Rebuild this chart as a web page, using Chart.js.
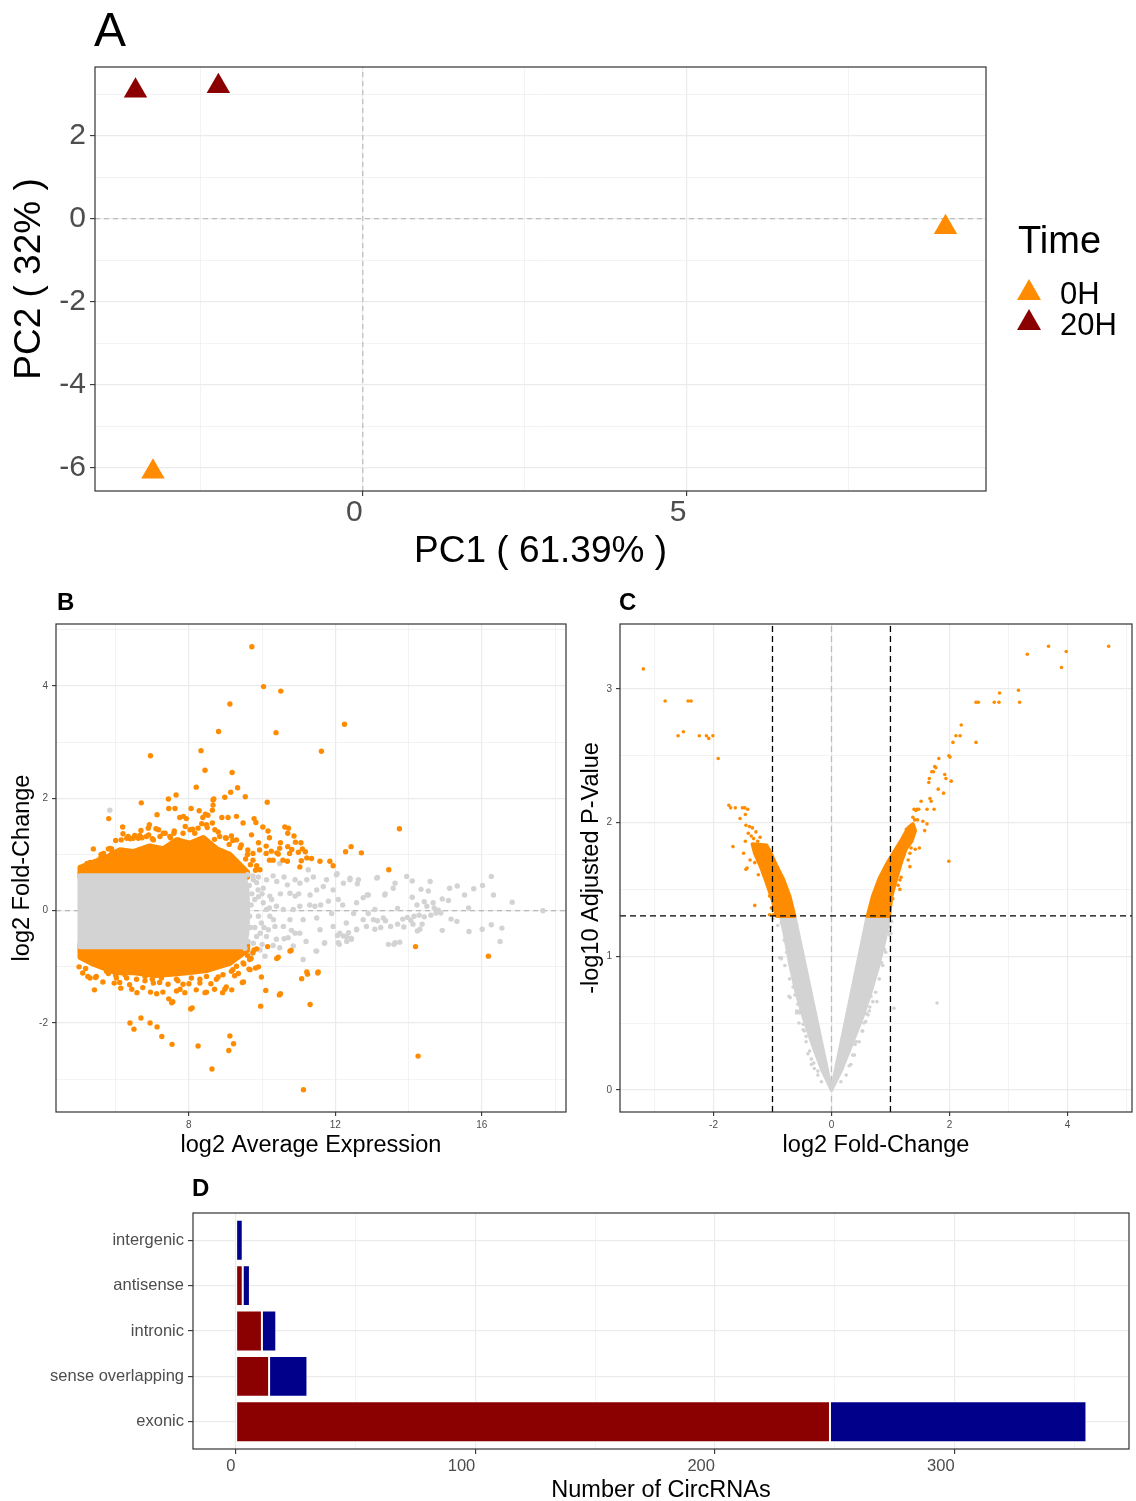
<!DOCTYPE html>
<html>
<head>
<meta charset="utf-8">
<script src="https://cdn.jsdelivr.net/npm/chart.js"></script>
<style>
  body { margin: 0; background: #fff; }
  #page { position: relative; width: 1136px; height: 1501px; font-family: "Liberation Sans", Arial, sans-serif; color: #000; }
  canvas { position: absolute; }
  .tag { position: absolute; line-height: 1; white-space: nowrap; }
  .panel { font-weight: bold; font-size: 24px; }
  .tri { position: absolute; width: 0; height: 0; border-left: 12px solid transparent; border-right: 12px solid transparent; }
</style>
</head>
<body>
<div id="page">
  <canvas id="pca" width="1136" height="580" style="left:0;top:0"></canvas>
  <canvas id="ma" width="570" height="590" style="left:0;top:580px"></canvas>
  <canvas id="volcano" width="566" height="590" style="left:570px;top:580px"></canvas>
  <canvas id="types" width="1136" height="331" style="left:0;top:1170px"></canvas>

  <div class="tag" style="left:94px;top:6px;font-size:48px">A</div>
  <div class="tag panel" style="left:57px;top:590px">B</div>
  <div class="tag panel" style="left:619px;top:590px">C</div>
  <div class="tag panel" style="left:192px;top:1176px">D</div>

  <div class="tag" style="left:1018px;top:221px;font-size:38px">Time</div>
  <div class="tri" style="left:1017px;top:279px;border-bottom:21px solid #FF8C00"></div>
  <div class="tag" style="left:1060px;top:278px;font-size:31px">0H</div>
  <div class="tri" style="left:1017px;top:309px;border-bottom:21px solid #8B0000"></div>
  <div class="tag" style="left:1060px;top:309px;font-size:31px">20H</div>
</div>
<script>
// ---- A: PCA ----
const pcaTime0H = [[-3.24, -6.10], [9.00, -0.21]]
const pcaTime20H = [[-3.51, 3.08], [-2.23, 3.19]]
const pcaTicksX = [0, 5]
const pcaTicksY = [-6, -4, -2, 0, 2]

// ---- B: MA plot ----
// dense cores of the cloud, outlined from the picture
const maNsCore = [[5.03, 0.62], [9.5, 0.62], [9.58, 0.4], [9.6, 0], [9.58, -0.4], [9.5, -0.64], [5.03, -0.64]]
const maSigCoreUp = [[5.03, 0.6], [9.6, 0.6], [9.6, 0.68], [9.48, 0.76], [9.12, 1.0], [8.76, 1.1], [8.39, 1.3], [8.03, 1.2], [7.66, 1.26], [7.3, 1.1], [6.93, 1.15], [6.48, 1.05], [6.11, 1.08], [5.75, 0.95], [5.39, 0.86], [5.03, 0.77]]
const maSigCoreDown = [[5.03, -0.6], [9.6, -0.6], [9.6, -0.7], [9.4, -0.8], [9.1, -0.94], [8.5, -1.06], [7.7, -1.12], [7.1, -1.15], [6.5, -1.1], [6.0, -1.1], [5.39, -0.95], [5.03, -0.83]]
const maSigPoints = [
  [9.72, 4.70], [10.04, 3.99], [10.51, 3.91], [9.12, 3.68], [12.25, 3.32], [8.81, 3.19], [10.38, 3.17], [6.95, 2.76], [8.33, 2.85], [11.62, 2.84],
  [8.44, 2.50], [9.18, 2.46], [8.2, 2.20], [9.33, 2.19], [9.14, 2.11], [7.65, 2.06], [7.44, 1.99], [9.54, 2.03], [8.68, 1.99], [8.98, 2.02],
  [10.14, 1.93], [6.70, 1.92], [13.75, 1.46], [12.43, 1.14], [12.28, 1.05], [12.71, 1.03], [13.46, 0.73], [5.81, 1.64], [7.13, 1.71],
  [8.06, 1.82], [7.45, 1.82], [7.62, 1.82], [8.28, 1.78], [8.64, 1.79], [8.66, 1.97], [8.66, 1.88], [8.38, 1.66], [7.75, 1.66], [7.85, 1.68],
  [7.93, 1.64], [8.45, 1.72], [8.52, 1.70], [8.9, 1.66], [9.07, 1.66], [9.78, 1.64], [9.83, 1.57], [10.02, 1.49], [10.16, 1.42], [10.2, 1.30],
  [10.62, 1.49], [10.72, 1.47], [10.87, 1.33], [11.06, 1.21], [11.18, 1.05], [10.5, 1.21], [10.7, 1.14], [10.81, 1.09], [10.99, 1.04], [11.07, 0.89],
  [9.9, 1.21], [10.11, 1.15], [10.25, 1.06], [10.4, 1.03], [6.19, 1.49], [5.39, 1.10], [6.69, 1.43], [6.89, 1.47], [6.92, 1.53], [7.1, 1.46],
  [7.17, 1.44], [6.2, 1.37], [6.34, 1.32], [6.52, 1.34], [6.66, 1.34], [6.72, 1.30], [5.8, 1.1], [5.85, 1.11], [5.67, 1.02], [5.58, 0.93],
  [5.3, 0.86], [5.22, 0.84], [11.94, 0.80], [11.85, 0.88], [11.58, 0.88], [11.35, 0.93], [11.22, 0.94], [11.03, 0.78], [11.1, 1.1], [10.91, 1.22],
  [10.7, 1.38], [10.48, 1.11], [10.69, 0.88], [10.44, 1.01], [10.3, 0.90], [9.94, 0.73],
  [6.0, 1.25], [6.4, 1.28], [6.9, 1.35], [7.3, 1.38], [7.6, 1.42], [7.9, 1.5], [8.1, 1.45], [8.35, 1.55], [8.5, 1.48], [8.8, 1.4],
  [9.0, 1.3], [9.2, 1.25], [9.4, 1.12], [9.6, 1.0], [9.75, 0.9], [9.85, 0.8], [7.5, 1.3], [7.0, 1.28], [8.7, 1.27], [9.1, 1.18], [5.6, 1.0], [5.9, 1.05],
  [5.66, 1.0], [5.89, 1.10], [6.15, 1.26], [6.30, 1.29], [6.48, 1.29], [6.62, 1.29], [6.84, 1.32], [7.03, 1.26], [7.21, 1.32], [7.35, 1.38],
  [7.48, 1.32], [7.59, 1.38], [7.71, 1.26], [7.84, 1.38], [8.03, 1.44], [8.16, 1.38], [8.25, 1.47], [8.48, 1.53], [8.64, 1.56], [8.71, 1.44],
  [8.84, 1.32], [9.02, 1.29], [9.16, 1.33], [9.3, 1.26], [9.43, 1.17], [9.61, 1.08], [9.75, 1.02], [9.93, 1.08], [10.11, 1.02], [10.2, 0.9],
  [10.57, 0.9], [10.75, 1.02], [9.3, 1.68], [9.48, 1.56], [9.71, 1.35], [9.68, 0.82], [9.55, 0.92], [9.82, 0.72],
  [6.39, -2.0], [6.50, -2.11], [6.69, -1.91], [6.94, -2.0], [7.13, -2.07], [7.26, -2.24], [7.54, -2.38], [8.25, -2.41], [9.12, -2.23], [9.22, -2.37],
  [9.09, -2.49], [8.63, -2.82], [11.13, -3.19], [14.26, -2.59], [14.19, -0.64], [16.18, -0.81], [8.09, -1.73], [7.56, -1.62], [9.96, -1.70], [11.31, -1.67],
  [11.53, -1.09], [11.22, -1.09], [11.24, -1.13], [11.52, -1.11], [11.08, -1.21], [10.5, -1.48], [10.47, -1.50], [10.1, -1.42], [9.98, -1.18], [9.9, -1.0],
  [5.42, -1.41], [5.24, -1.17], [10.79, -0.71], [10.4, -0.85], [10.44, -0.83], [10.15, -0.64], [9.78, -0.7], [9.67, -1.05], [9.49, -1.27],
  [9.25, -1.16], [8.98, -1.40], [9.02, -1.36], [8.48, -1.45], [10.76, -0.72], [5.65, -1.27], [5.3, -1.2], [5.45, -1.19], [5.0, -1.0], [5.18, -1.03],
  [5.96, -1.29], [6.11, -1.28], [6.14, -1.38], [6.38, -1.32], [6.44, -1.40], [6.58, -1.46], [6.74, -1.37], [6.95, -1.45], [7.12, -1.48], [7.29, -1.45],
  [7.45, -1.57], [7.53, -1.64], [7.66, -1.43], [7.76, -1.40], [7.89, -1.46], [8.05, -1.75], [8.2, -1.41], [8.44, -1.46], [8.7, -1.40], [8.92, -1.46],
  [9.17, -1.41], [9.46, -1.28], [9.64, -1.04], [9.82, -1.02], [5.8, -1.12], [6.3, -1.2], [6.8, -1.25], [7.2, -1.28], [7.7, -1.25], [8.3, -1.22],
  [8.8, -1.18], [9.2, -1.05], [9.5, -0.95], [9.7, -0.85], [6.0, -1.15], [7.0, -1.22], [8.0, -1.3], [8.6, -1.3], [9.35, -1.12],
  [5.1, -1.11], [5.47, -1.17], [5.75, -1.08], [6.02, -1.20], [6.25, -1.14], [6.57, -1.22], [6.8, -1.17], [7.03, -1.29], [7.25, -1.20], [7.43, -1.31],
  [7.66, -1.22], [7.84, -1.31], [8.07, -1.20], [8.3, -1.29], [8.48, -1.17], [8.75, -1.22], [8.93, -1.14], [9.16, -1.08], [9.3, -0.99], [9.48, -0.93],
  [9.66, -0.87], [9.75, -0.75], [9.85, -0.68], [9.6, -0.8]
]
const maNsPoints = [
  [5.84, 1.79],
  [9.65, 0.45], [9.7, 0.1], [9.68, -0.3], [9.62, -0.55], [9.72, 0.3], [9.66, -0.1], [9.8, -0.3], [9.75, 0.62], [9.9, 0.25], [10.05, -0.3],
  [9.76, 0.55], [9.89, 0.37], [10.03, 0.14], [10.12, 0.02], [9.98, -0.22], [9.85, -0.46], [9.76, -0.58], [10.26, 0.2], [10.31, -0.16], [10.17, -0.34],
  [9.94, -0.7], [9.71, -0.76], [9.53, -0.67], [9.6, 0.64], [9.8, 0.2], [9.9, -0.1], [9.85, 0.5], [10.0, 0.3], [9.95, -0.4],
  [10.03, 0.40], [10.12, 0.55], [10.21, 0.26], [10.4, 0.52], [10.48, 0.84], [10.69, 0.46], [10.76, 0.31], [10.9, 0.26], [11.03, 0.49], [11.22, 0.55],
  [11.26, 0.73], [11.31, 0.28], [11.44, 0.08], [11.49, 0.37], [11.67, 0.43], [11.76, 0.55], [11.81, 0.17], [11.94, 0.37], [12.03, 0.64], [12.08, 0.2],
  [12.22, 0.49], [12.4, 0.55], [12.58, 0.14], [12.63, 0.55], [12.76, 0.23], [12.9, 0.28], [13.13, 0.58], [13.08, 0.02], [13.04, -0.16], [13.31, -0.13],
  [13.35, 0.28], [13.58, 0.40], [13.51, -0.28], [13.45, -0.6], [13.63, -0.57], [11.49, -0.13], [11.58, -0.34], [11.71, -0.57], [11.94, -0.28], [12.08, -0.57],
  [12.12, -0.4], [12.3, -0.46], [12.44, -0.51], [12.58, -0.34], [12.76, -0.16], [12.85, -0.28], [12.3, -0.22], [11.12, -0.16], [11.03, -0.4], [10.85, -0.63],
  [10.71, -0.48], [10.48, -0.66], [10.39, -0.51], [10.35, -0.28], [10.58, -0.28], [10.76, -0.16], [10.58, 0.02], [10.85, 0.02], [11.03, 0.08], [10.39, 0.08],
  [10.21, -0.1], [10.12, -0.46], [10.08, -0.81], [11.12, -0.87], [11.47, -0.72],
  [9.9, 0.6], [10.0, -0.6], [10.3, 0.62], [10.6, 0.6], [10.9, 0.55], [10.3, -0.62], [10.6, -0.5], [10.9, -0.4], [11.2, -0.55], [11.3, 0.1],
  [11.6, 0.1], [11.0, 0.3], [10.2, 0.05], [10.5, 0.3], [10.8, -0.35], [11.4, 0.6], [11.9, -0.05], [12.2, 0.1], [12.5, -0.05], [12.9, -0.05],
  [16.83, 0.15], [17.67, 0.0], [16.26, 0.61], [16.32, 0.28], [16.02, 0.45], [15.78, 0.39], [15.53, 0.28], [15.33, 0.44], [15.12, 0.40], [14.92, 0.21],
  [15.09, 0.18], [15.64, 0.05], [15.16, -0.15], [15.32, -0.19], [15.65, -0.37], [16.01, -0.33], [16.26, -0.25], [16.55, -0.31], [16.5, -0.55], [14.92, -0.35],
  [14.59, 0.52], [14.34, 0.38], [14.54, 0.35], [14.1, 0.53], [13.95, 0.61], [13.63, 0.49], [13.36, 0.3], [13.15, 0.59], [12.87, 0.28], [12.6, 0.48],
  [12.4, 0.58], [12.05, 0.66], [14.1, 0.24], [14.23, 0.10], [14.43, 0.16], [14.5, 0.08], [14.67, 0.14], [14.7, 0.05], [14.81, 0.01], [14.15, -0.10],
  [14.29, -0.08], [14.43, -0.11], [14.61, -0.08], [14.75, -0.04], [14.88, -0.04], [14.12, -0.24], [14.37, -0.24], [14.24, -0.36], [14.31, -0.33], [13.7, -0.24],
  [13.87, -0.29], [13.76, -0.56], [13.6, -0.60], [13.97, -0.12], [14.06, -0.17], [13.84, -0.15], [13.7, 0.04], [13.08, -0.33], [13.24, -0.30], [13.37, -0.18],
  [13.15, -0.18], [12.58, -0.33], [12.36, -0.39], [12.43, -0.49], [12.11, -0.60], [12.31, -0.55], [12.06, -0.44], [12.22, -0.45], [11.7, -0.58], [11.49, -0.72]
]
const maTicksX = [8, 12, 16]
const maTicksY = [-2, 0, 2, 4]

// ---- C: volcano ----
const volNsLeft = [[0, 0], [-0.625, 1.30], [-0.86, 1.30], [-0.78, 1.13], [-0.70, 0.933], [-0.60, 0.735], [-0.47, 0.536], [-0.32, 0.337], [-0.15, 0.139]]
const volNsRight = [[0, 0], [0.16, 0.139], [0.34, 0.337], [0.52, 0.536], [0.67, 0.735], [0.80, 0.933], [0.91, 1.13], [0.98, 1.30], [0.61, 1.30]]
const volSigLeft = [[-0.625, 1.30], [-0.71, 1.45], [-0.82, 1.58], [-0.935, 1.68], [-1.05, 1.79], [-1.1, 1.83], [-1.34, 1.84], [-1.3, 1.77], [-1.2, 1.67], [-1.1, 1.55], [-1.0, 1.42], [-0.93, 1.30]]
const volSigRight = [[0.61, 1.30], [0.70, 1.45], [0.81, 1.58], [0.95, 1.70], [1.09, 1.80], [1.2, 1.88], [1.3, 1.96], [1.38, 1.99], [1.42, 1.94], [1.36, 1.86], [1.26, 1.8], [1.18, 1.7], [1.1, 1.58], [1.02, 1.45], [0.98, 1.30]]
const volSigPoints = [
  [-3.19, 3.15], [-2.82, 2.91], [-2.43, 2.91], [-2.38, 2.91], [-2.6, 2.65], [-2.51, 2.68], [-2.24, 2.65], [-2.12, 2.65], [-2.08, 2.63], [-2.01, 2.65],
  [-1.92, 2.48], [-1.74, 2.13], [-1.71, 2.11], [-1.63, 2.11], [-1.51, 2.11], [-1.47, 2.11], [-1.42, 2.10], [-1.46, 2.06], [-1.55, 2.03], [-1.45, 1.98],
  [-1.39, 1.97], [-1.34, 1.96], [-1.28, 1.93], [-1.21, 1.89], [-1.41, 1.92], [-1.46, 1.86], [-1.67, 1.82], [-1.49, 1.77], [-1.45, 1.65], [-1.38, 1.72],
  [-1.30, 1.70], [-1.43, 1.66], [-1.24, 1.61], [-1.11, 1.59], [-1.08, 1.53], [-1.05, 1.45], [-1.30, 1.38], [-1.05, 1.31], [-0.99, 1.31], [-0.91, 1.41], [-0.95, 1.51],
  [-1.36, 1.90], [-1.32, 1.88], [-1.25, 1.86], [-1.15, 1.62], [-1.02, 1.36], [-0.96, 1.34],
  [4.70, 3.32], [3.68, 3.32], [3.98, 3.28], [3.32, 3.26], [3.90, 3.16], [3.17, 2.99], [3.19, 2.90], [2.85, 2.97], [2.84, 2.90], [2.76, 2.90],
  [2.45, 2.90], [2.49, 2.90], [2.45, 2.60], [2.2, 2.73], [2.18, 2.65], [2.11, 2.65], [2.06, 2.60], [1.99, 2.50], [2.01, 2.49], [2.03, 2.31],
  [1.99, 1.71], [1.82, 2.48], [1.75, 2.42], [1.77, 2.41], [1.70, 2.38], [1.73, 2.38], [1.65, 2.30], [1.66, 2.33], [1.92, 2.36], [1.94, 2.33],
  [1.90, 2.22], [1.81, 2.25], [1.67, 2.18], [1.69, 2.16], [1.52, 2.16], [1.74, 2.10], [1.62, 2.10], [1.40, 2.10], [1.43, 2.09], [1.45, 2.10],
  [1.48, 2.10], [1.38, 2.04], [1.41, 2.02], [1.46, 2.02], [1.55, 2.01], [1.62, 1.99], [1.58, 1.94], [1.49, 1.81], [1.42, 1.80], [1.35, 1.81],
  [1.33, 1.77], [1.30, 1.72], [1.33, 1.67], [1.18, 1.59], [1.16, 1.57], [1.13, 1.53], [1.16, 1.50], [1.01, 1.47], [1.04, 1.43], [0.97, 1.34],
  [1.27, 1.95], [1.3, 1.92], [1.35, 1.97], [1.25, 1.9], [1.22, 1.87], [1.3, 1.86]
]
const volNsPoints = [
  [-0.99, 1.28], [-0.91, 1.23], [-0.88, 0.99], [-0.72, 0.70], [-0.65, 0.90], [-0.68, 1.11], [-0.59, 0.59], [-0.40, 0.27], [-0.43, 0.40], [-0.34, 0.19],
  [-0.71, 1.03], [-0.77, 1.18], [-0.85, 1.25], [-0.70, 0.69], [-0.59, 0.575], [-0.54, 0.575], [-0.85, 0.99], [-0.76, 1.03], [-0.23, 0.14], [-0.80, 1.12],
  [-0.62, 0.8], [-0.55, 0.5], [-0.48, 0.45], [-0.3, 0.2],
  [-0.85, 0.98], [-0.79, 0.93], [-0.71, 0.83], [-0.65, 0.77], [-0.62, 0.71], [-0.57, 0.64], [-0.54, 0.59], [-0.48, 0.49], [-0.46, 0.44], [-0.43, 0.36],
  [-0.37, 0.29], [-0.34, 0.23], [-0.29, 0.16], [-0.23, 0.11], [-0.17, 0.06],
  [1.79, 0.65], [1.06, 0.61], [1.02, 1.26], [0.98, 1.18], [0.9, 1.05], [0.87, 1.05], [0.79, 0.93], [0.77, 0.66], [0.65, 0.62], [0.62, 0.56],
  [0.40, 0.34], [0.52, 0.44], [0.59, 0.71], [0.68, 0.84], [0.73, 0.98], [0.83, 1.1], [1.01, 1.17], [0.67, 0.70], [0.59, 0.57], [0.42, 0.36],
  [0.36, 0.26], [0.96, 1.24], [1.0, 1.22], [0.92, 1.2], [0.85, 0.95], [0.55, 0.5], [0.3, 0.18],
  [1.01, 1.26], [0.98, 1.16], [0.92, 1.03], [0.87, 0.93], [0.81, 0.83], [0.75, 0.73], [0.70, 0.66], [0.64, 0.59], [0.58, 0.51], [0.53, 0.44],
  [0.47, 0.36], [0.39, 0.26], [0.33, 0.19], [0.25, 0.11], [0.16, 0.06]
]
const volFcCut = 1
const volPCut = 1.301
const volTicksX = [-2, 0, 2, 4]
const volTicksY = [0, 1, 2, 3]

// ---- D: circRNA types ----
const barCategories = ['intergenic', 'antisense', 'intronic', 'sense overlapping', 'exonic']
const redCounts = [0, 3, 11, 14, 248]
const blueCounts = [3, 3, 6, 16, 107]
const barTicksX = [0, 100, 200, 300]

const ORANGE = '#FF8C00'
const DARKRED = '#8B0000'
const DARKBLUE = '#00008B'
const NSGRAY = '#D3D3D3'

Chart.defaults.font.family = '"Liberation Sans", Arial, sans-serif'
Chart.defaults.animation = false
Chart.defaults.events = []
Chart.defaults.plugins.legend.display = false
Chart.defaults.plugins.tooltip.enabled = false

const toXY = arr => arr.map(([x, y]) => ({ x, y }))
const closed = arr => toXY(arr.concat([arr[0]]))

const panelBorder = {
  id: 'panelBorder',
  afterDraw(chart) {
    const { ctx, chartArea: a } = chart
    ctx.save()
    ctx.strokeStyle = '#333333'
    ctx.lineWidth = 1.2
    ctx.strokeRect(a.left, a.top, a.right - a.left, a.bottom - a.top)
    ctx.restore()
  }
}

function makeScale(o) {
  const minor = o.minor || []
  const all = o.major.concat(minor).sort((a, b) => a - b)
  const isMajor = v => o.major.includes(v)
  return {
    type: 'linear',
    min: o.min,
    max: o.max,
    reverse: !!o.reverse,
    stacked: !!o.stacked,
    offset: false,
    afterBuildTicks: s => { s.ticks = all.map(v => ({ value: v })) },
    afterFit: s => {
      if (o.width != null) s.width = o.width
      if (o.height != null) s.height = o.height
    },
    ticks: {
      autoSkip: false,
      maxRotation: 0,
      align: o.align || 'center',
      padding: o.tickPad,
      color: '#4D4D4D',
      font: { size: o.fontSize, lineHeight: 1 },
      callback: v => isMajor(v) ? (o.labels ? o.labels[o.major.indexOf(v)] : String(v)) : ''
    },
    grid: {
      offset: false,
      color: '#EBEBEB',
      lineWidth: c => c.tick && isMajor(c.tick.value) ? 1.2 : 0.6,
      tickLength: o.tickLen,
      tickWidth: 1.1,
      tickColor: c => c.tick && isMajor(c.tick.value) ? '#333333' : 'rgba(0,0,0,0)'
    },
    border: { display: false },
    title: {
      display: !!o.title,
      text: o.title,
      color: '#000',
      font: { size: o.titleSize || 23.5, lineHeight: o.titleLH || 1 },
      padding: { top: o.titlePad || 0, bottom: o.titlePad || 0 }
    }
  }
}

const dots = (arr, color, r, order) => ({
  data: toXY(arr), pointRadius: r, pointBackgroundColor: color, pointBorderWidth: 0, order
})
const blob = (arr, color, r, order) => ({
  type: 'line', data: closed(arr), borderColor: color, backgroundColor: color, borderWidth: 2 * r,
  borderJoinStyle: 'round', borderCapStyle: 'round', fill: 'shape', pointRadius: 0, tension: 0, order
})
const refLine = (pts, color, dash, width, order) => ({
  type: 'line', data: toXY(pts), borderColor: color, borderDash: dash, borderWidth: width,
  pointRadius: 0, fill: false, order
})

// A
const pcaX = [-4.1355, 9.6255]
const pcaY = [-6.5645, 3.6545]
new Chart(document.getElementById('pca'), {
  type: 'scatter',
  data: {
    datasets: [
      { data: toXY(pcaTime0H), pointStyle: 'triangle', pointRadius: 13.5, pointBackgroundColor: ORANGE, pointBorderWidth: 0, order: 1 },
      { data: toXY(pcaTime20H), pointStyle: 'triangle', pointRadius: 13.5, pointBackgroundColor: DARKRED, pointBorderWidth: 0, order: 1 },
      refLine([[0, pcaY[0]], [0, pcaY[1]]], '#BDBDBD', [5, 4], 1.2, 5),
      refLine([[pcaX[0], 0], [pcaX[1], 0]], '#BDBDBD', [5, 4], 1.2, 5)
    ]
  },
  options: {
    responsive: false,
    layout: { padding: { top: 67, right: 150, left: 0, bottom: 0 } },
    scales: {
      x: makeScale({ min: pcaX[0], max: pcaX[1], major: pcaTicksX, minor: [-2.5, 2.5, 7.5], align: 'end', fontSize: 30, tickLen: 5, tickPad: 2, height: 89, title: 'PC1 ( 61.39% )', titleSize: 37, titlePad: 10 }),
      y: makeScale({ min: pcaY[0], max: pcaY[1], major: pcaTicksY, minor: [-5, -3, -1, 1, 3], fontSize: 30, tickLen: 5, tickPad: 4, width: 95, title: 'PC2 ( 32% )', titleSize: 37, titlePad: 11 })
    }
  },
  plugins: [panelBorder]
})

// B
new Chart(document.getElementById('ma'), {
  type: 'scatter',
  data: {
    datasets: [
      dots(maSigPoints, ORANGE, 2.7, 1),
      dots(maNsPoints, NSGRAY, 2.7, 2),
      blob(maNsCore, NSGRAY, 2.7, 3),
      blob(maSigCoreUp, ORANGE, 2.7, 4),
      blob(maSigCoreDown, ORANGE, 2.7, 4),
      refLine([[4.37, 0], [18.3, 0]], '#AAAAAA', [5, 4], 1.1, 6)
    ]
  },
  options: {
    responsive: false,
    layout: { padding: { top: 44, right: 4, left: 0, bottom: 0 } },
    scales: {
      x: makeScale({ min: 4.37, max: 18.3, major: maTicksX, minor: [6, 10, 14, 18], fontSize: 10, tickLen: 4, tickPad: 4, height: 58, title: 'log2 Average Expression', titlePad: 13 }),
      y: makeScale({ min: -3.585, max: 5.105, major: maTicksY, minor: [-3, -1, 1, 3, 5], fontSize: 10, tickLen: 4, tickPad: 4, width: 56, title: 'log2 Fold-Change', titlePad: 11 })
    }
  },
  plugins: [panelBorder]
})

// C
const volX = [-3.585, 5.095]
const volY = [-0.166, 3.486]
new Chart(document.getElementById('volcano'), {
  type: 'scatter',
  data: {
    datasets: [
      refLine([[-volFcCut, volY[0]], [-volFcCut, volY[1]]], '#000', [6, 4], 1.3, 0),
      refLine([[volFcCut, volY[0]], [volFcCut, volY[1]]], '#000', [6, 4], 1.3, 0),
      refLine([[volX[0], volPCut], [volX[1], volPCut]], '#000', [6, 4], 1.3, 0),
      dots(volSigPoints, ORANGE, 1.8, 1),
      dots(volNsPoints, NSGRAY, 1.8, 2),
      blob(volSigLeft, ORANGE, 1.8, 3),
      blob(volSigRight, ORANGE, 1.8, 3),
      blob(volNsLeft, NSGRAY, 1.8, 4),
      blob(volNsRight, NSGRAY, 1.8, 4),
      refLine([[0, volY[0]], [0, volY[1]]], '#BDBDBD', [6, 4], 1.3, 6)
    ]
  },
  options: {
    responsive: false,
    layout: { padding: { top: 44, right: 3, left: 0, bottom: 0 } },
    scales: {
      x: makeScale({ min: volX[0], max: volX[1], major: volTicksX, minor: [-3, -1, 1, 3, 5], fontSize: 10, tickLen: 4, tickPad: 4, height: 58, title: 'log2 Fold-Change', titlePad: 13 }),
      y: makeScale({ min: volY[0], max: volY[1], major: volTicksY, minor: [0.5, 1.5, 2.5], fontSize: 10, tickLen: 4, tickPad: 4, width: 50, title: '-log10 Adjusted P-Value', titlePad: 10 })
    }
  },
  plugins: [panelBorder]
})

// D
new Chart(document.getElementById('types'), {
  type: 'bar',
  data: {
    datasets: [
      { data: barCategories.map((c, i) => ({ x: redCounts[i], y: i })), backgroundColor: DARKRED, borderColor: '#FFFFFF', borderWidth: 1, borderSkipped: false, barPercentage: 0.9, categoryPercentage: 1 },
      { data: barCategories.map((c, i) => ({ x: blueCounts[i], y: i })), backgroundColor: DARKBLUE, borderColor: '#FFFFFF', borderWidth: 1, borderSkipped: false, barPercentage: 0.9, categoryPercentage: 1 }
    ]
  },
  options: {
    responsive: false,
    indexAxis: 'y',
    layout: { padding: { top: 43, right: 7, left: 0, bottom: 0 } },
    scales: {
      x: makeScale({ min: -17.75, max: 372.75, major: barTicksX, minor: [50, 150, 250, 350], align: 'end', stacked: true, fontSize: 16.5, tickLen: 5, tickPad: 4, height: 52, title: 'Number of CircRNAs', titleLH: 0.9, titlePad: 0 }),
      y: makeScale({ min: -0.6, max: 4.6, reverse: true, stacked: true, major: [0, 1, 2, 3, 4], labels: barCategories, fontSize: 16.5, tickLen: 5, tickPad: 4, width: 193 })
    }
  },
  plugins: [panelBorder]
})
</script>
</body>
</html>
